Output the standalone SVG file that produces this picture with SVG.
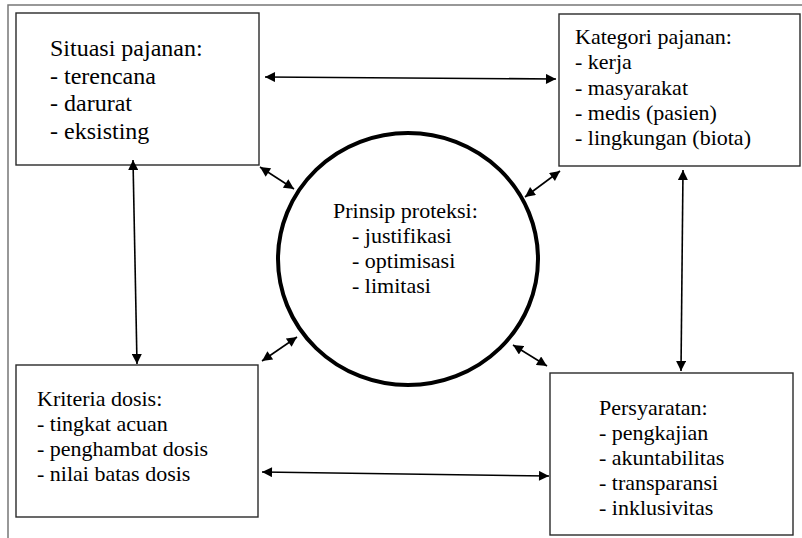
<svg xmlns="http://www.w3.org/2000/svg" width="802" height="538" viewBox="0 0 802 538">
  <defs>
    <style>
      .box { fill: #ffffff; stroke: #2a2a2a; stroke-width: 1.4; }
      .frame { fill: none; stroke: #777777; stroke-width: 1.5; }
      .ring { fill: none; stroke: #000000; stroke-width: 4; }
      text { font-family: 'Liberation Serif', 'DejaVu Serif', serif; font-size: 22px; fill: #000000; }
      text.lg { font-size: 24px; }
      .link { fill: none; stroke: #000000; stroke-width: 1.6; marker-start: url(#head); marker-end: url(#head); }
    </style>
    <marker id="head" viewBox="0 0 10 10" refX="10" refY="5" markerUnits="userSpaceOnUse" markerWidth="11" markerHeight="10" orient="auto-start-reverse">
      <path d="M0,0 L10,5 L0,10 z" fill="#000000"/>
    </marker>
  </defs>

  <rect width="802" height="538" fill="#ffffff"/>

  <!-- page frame (top and left edges) -->
  <path class="frame" d="M8,538 L8,5 L802,5"/>

  <g id="situasi">
    <rect class="box" x="16" y="13" width="243" height="152"/>
    <text class="lg" x="50" y="56">Situasi pajanan:</text>
    <text class="lg" x="50" y="83.5">- terencana</text>
    <text class="lg" x="50" y="111">- darurat</text>
    <text class="lg" x="50" y="138.5">- eksisting</text>
  </g>

  <g id="kategori">
    <rect class="box" x="559" y="14" width="241" height="152"/>
    <text x="575" y="44">Kategori pajanan:</text>
    <text x="575" y="69">- kerja</text>
    <text x="575" y="94.5">- masyarakat</text>
    <text x="575" y="119.5">- medis (pasien)</text>
    <text x="575" y="145">- lingkungan (biota)</text>
  </g>

  <g id="prinsip">
    <ellipse class="ring" cx="408" cy="259" rx="130" ry="126"/>
    <text x="333" y="218">Prinsip proteksi:</text>
    <text x="352" y="243">- justifikasi</text>
    <text x="352" y="268">- optimisasi</text>
    <text x="352" y="293">- limitasi</text>
  </g>

  <g id="kriteria">
    <rect class="box" x="16" y="365" width="242" height="152"/>
    <text x="37" y="406">Kriteria dosis:</text>
    <text x="37" y="431">- tingkat acuan</text>
    <text x="37" y="456">- penghambat dosis</text>
    <text x="37" y="481">- nilai batas dosis</text>
  </g>

  <g id="persyaratan">
    <rect class="box" x="550" y="373" width="243" height="162"/>
    <text x="599" y="415">Persyaratan:</text>
    <text x="599" y="440">- pengkajian</text>
    <text x="599" y="465">- akuntabilitas</text>
    <text x="599" y="490">- transparansi</text>
    <text x="599" y="515">- inklusivitas</text>
  </g>

  <g id="connectors">
    <line class="link" x1="265" y1="77" x2="556" y2="79"/>
    <line class="link" x1="262" y1="472" x2="549" y2="476"/>
    <line class="link" x1="133" y1="160" x2="137" y2="364"/>
    <line class="link" x1="683" y1="170" x2="681" y2="371"/>
    <line class="link" x1="260" y1="167" x2="294" y2="189"/>
    <line class="link" x1="525" y1="197" x2="560" y2="171"/>
    <line class="link" x1="262" y1="361" x2="297" y2="337"/>
    <line class="link" x1="513" y1="345" x2="547" y2="366"/>
  </g>
</svg>
